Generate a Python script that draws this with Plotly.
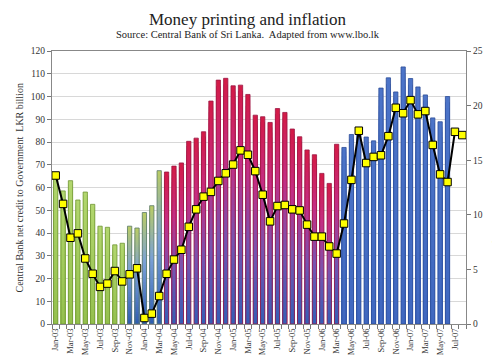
import plotly.graph_objects as go

# ---------------- data ----------------
months = ["Jan-03", "Feb-03", "Mar-03", "Apr-03", "May-03", "Jun-03", "Jul-03", "Aug-03",
          "Sep-03", "Oct-03", "Nov-03", "Dec-03", "Jan-04", "Feb-04", "Mar-04", "Apr-04",
          "May-04", "Jun-04", "Jul-04", "Aug-04", "Sep-04", "Oct-04", "Nov-04", "Dec-04",
          "Jan-05", "Feb-05", "Mar-05", "Apr-05", "May-05", "Jun-05", "Jul-05", "Aug-05",
          "Sep-05", "Oct-05", "Nov-05", "Dec-05", "Jan-06", "Feb-06", "Mar-06", "Apr-06",
          "May-06", "Jun-06", "Jul-06", "Aug-06", "Sep-06", "Oct-06", "Nov-06", "Dec-06",
          "Jan-07", "Feb-07", "Mar-07", "Apr-07", "May-07", "Jun-07", "Jul-07", "Aug-07"]

# Central Bank net credit to Government, LKR billion (left axis)
net_credit = [66, 58.5, 63, 54.5, 58, 52.6, 43, 42.5, 34.8, 35.5,
              43, 42.2, 49, 52, 67.4, 66.8, 69.4, 70.8, 80.3, 81.7,
              84.5, 98, 107.2, 108, 104.7, 105, 100.9, 91.8, 91.1, 88.6,
              94.7, 93, 85.7, 82.3, 76.5, 74.4, 66.2, 61.8, 79, 77.6,
              83.3, 84, 82.2, 80.5, 103.7, 108.2, 102, 113, 107.9, 104.2,
              100.7, 90.6, 88.9, 100, None, None]

# Inflation CCPI, % year-on-year (right axis)
inflation = [13.6, 11.0, 7.9, 8.3, 6.0, 4.6, 3.4, 3.7, 4.85, 3.9,
             4.55, 5.1, 0.55, 0.95, 2.56, 4.6, 5.9, 6.8, 8.9, 10.5,
             11.66, 12.1, 13.1, 13.8, 14.6, 15.9, 15.5, 14.0, 11.84, 9.4,
             10.8, 10.9, 10.5, 10.4, 9.1, 8.0, 8.0, 7.1, 6.45, 9.2,
             13.2, 17.7, 14.74, 15.3, 15.45, 17.2, 19.8, 19.3, 20.5, 19.2,
             19.5, 16.4, 13.7, 13.0, 17.6, 17.3]

# colour scheme of each bar (as in the source chart)
bar_scheme = (["green"] * 10 + ["greenblue"] * 5 + ["red"] * 24 + ["blue"] * 15 + [None, None])

tick_labels = [m if i % 2 == 0 else "" for i, m in enumerate(months)]

# ---------------- styles ----------------
SCHEMES = {
    "green": [(0.0, (148, 192, 78)), (1.0, (178, 214, 110))],
    "greenblue": [(0.0, (46, 92, 176)), (0.55, (122, 160, 214)), (1.0, (186, 204, 100))],
    "red": [(0.0, (52, 94, 182)), (0.35, (120, 84, 176)), (0.68, (196, 46, 132)), (1.0, (212, 26, 70))],
    "blue": [(0.0, (64, 104, 192)), (1.0, (76, 116, 200))],
}
EDGES = {"green": "#6f9432", "greenblue": "#5c7a6a", "red": "#9a1642", "blue": "#2c4c98"}


def grad(scheme, f):
    stops = SCHEMES[scheme]
    for (f0, c0), (f1, c1) in zip(stops[:-1], stops[1:]):
        if f <= f1:
            t = (f - f0) / (f1 - f0) if f1 > f0 else 0
            c = [round(a + (b - a) * t) for a, b in zip(c0, c1)]
            return "rgb(%d,%d,%d)" % tuple(c)
    return "rgb(%d,%d,%d)" % stops[-1][1]


SERIF = "Liberation Serif"
fig = go.Figure()

N = 40
for k in range(N):
    frac_top = (N - k) / N
    fmid = (N - k - 0.5) / N
    ys = [v * frac_top if v is not None else None for v in net_credit]
    cols = [grad(s, fmid) if s else "rgba(0,0,0,0)" for s in bar_scheme]
    fig.add_trace(go.Bar(x=months, y=ys, marker=dict(color=cols, line=dict(width=0)),
                         showlegend=False, hoverinfo="skip"))

fig.add_trace(go.Bar(x=months, y=net_credit,
                     marker=dict(color="rgba(0,0,0,0)",
                                 line=dict(width=0.8, color=[EDGES[s] if s else "rgba(0,0,0,0)" for s in bar_scheme])),
                     showlegend=False, hoverinfo="skip"))

fig.add_trace(go.Scatter(x=months, y=inflation, yaxis="y2", mode="lines+markers",
                         line=dict(color="black", width=2),
                         marker=dict(symbol="square", size=7.5, color="#ffff00",
                                     line=dict(color="black", width=1)),
                         showlegend=False))

fig.update_layout(
    width=500, height=355,
    margin=dict(l=44, r=42, t=43, b=39),
    paper_bgcolor="white", plot_bgcolor="white",
    barmode="overlay", bargap=0.42,
    font=dict(family=SERIF, color="#333", size=10),
    xaxis=dict(type="category", categoryorder="array", categoryarray=months,
               range=[-0.5, len(months) - 0.5],
               tickvals=months, ticktext=tick_labels, tickangle=-90,
               tickson="boundaries", ticks="outside", ticklen=4, tickcolor="#777",
               tickfont=dict(size=8.5, family=SERIF, color="#333"),
               showline=True, linecolor="#888", linewidth=1, mirror=True,
               showgrid=False, automargin=False),
    yaxis=dict(range=[0, 120], dtick=10, showgrid=True, gridcolor="#d8d8d8", gridwidth=1,
               showline=True, linecolor="#888", linewidth=1,
               ticks="outside", ticklen=4, tickcolor="#777",
               tickfont=dict(size=9.5, family=SERIF, color="#333"),
               zeroline=False, automargin=False),
    yaxis2=dict(overlaying="y", side="right", range=[0, 25], dtick=5, showgrid=False,
                showline=True, linecolor="#888", linewidth=1,
                ticks="outside", ticklen=4, tickcolor="#777",
                tickfont=dict(size=9.5, family=SERIF, color="#333"),
                zeroline=False, automargin=False),
    annotations=[
        dict(text="Money printing and inflation", xref="paper", yref="paper",
             x=0.473, y=1.1136, xanchor="center", yanchor="middle", showarrow=False,
             font=dict(family=SERIF, size=17, color="#222")),
        dict(text="Source: Central Bank of Sri Lanka.  Adapted from www.lbo.lk", xref="paper", yref="paper",
             x=0.473, y=1.0604, xanchor="center", yanchor="middle", showarrow=False,
             font=dict(family=SERIF, size=10.5, color="#222")),
        dict(text="Central Bank net credit to Government  LKR billion", xref="paper", yref="paper",
             x=-0.0773, y=0.5, xanchor="center", yanchor="middle", textangle=-90, showarrow=False,
             font=dict(family=SERIF, size=10, color="#333")),
        dict(text="Inflation CCPI, % year-on-year", xref="paper", yref="paper",
             x=1.0725, y=0.5, xanchor="center", yanchor="middle", textangle=-90, showarrow=False,
             font=dict(family=SERIF, size=10.5, color="#333")),
    ],
)

fig.write_html("out.html")
